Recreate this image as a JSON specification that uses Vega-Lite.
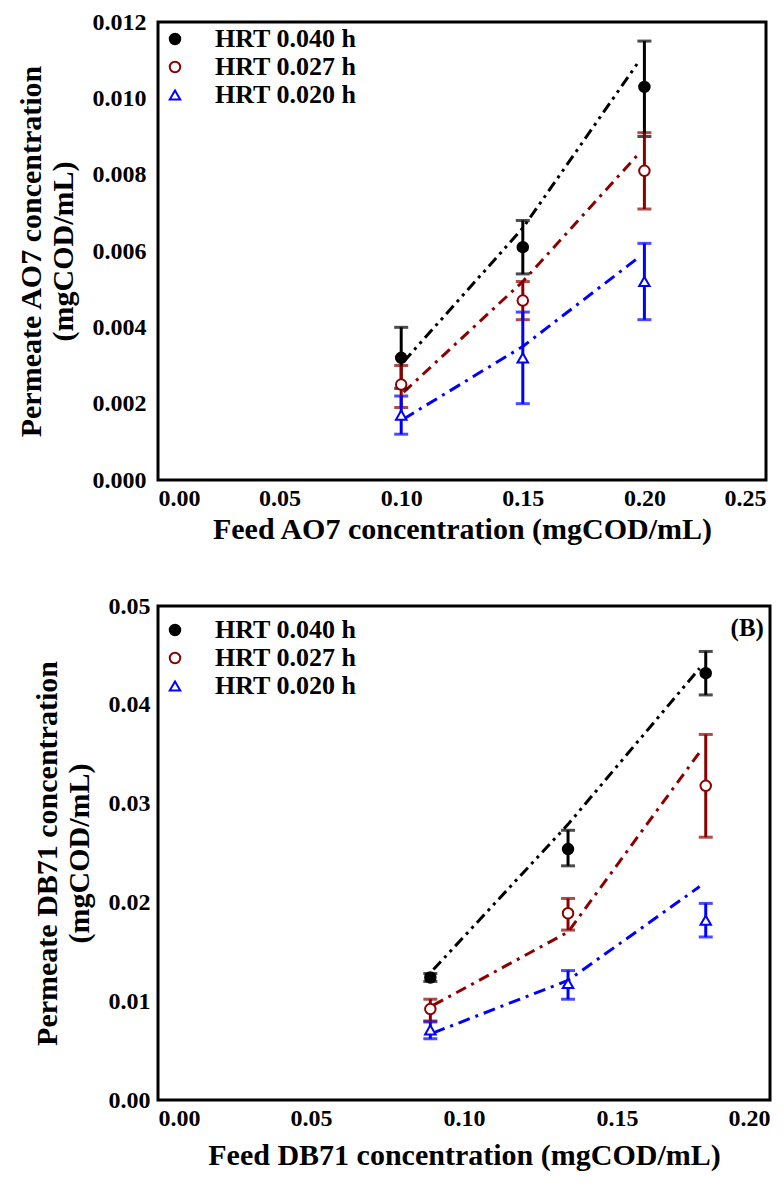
{
  "$schema": "https://vega.github.io/schema/vega-lite/v6.json",
  "padding": {"left": 14, "top": 8, "right": 12, "bottom": 5},
  "background": "white",
  "spacing": 46,
  "resolve": {
    "scale": {"color": "independent", "stroke": "independent", "fill": "independent", "shape": "independent", "strokeDash": "independent"},
    "legend": {"color": "independent", "stroke": "independent", "fill": "independent", "shape": "independent", "strokeDash": "independent"}
  },
  "config": {
    "font": "Liberation Serif",
    "view": {"stroke": "black", "strokeWidth": 3},
    "style": {"guide-title": {"lineBreak": "\n"}},
    "axis": {
      "grid": false, "ticks": false, "domain": false,
      "labelFont": "Liberation Serif", "labelFontWeight": "bold", "labelFontSize": 24, "labelColor": "black",
      "titleFont": "Liberation Serif", "titleFontWeight": "bold", "titleFontSize": 30, "titleColor": "black", "titleLineHeight": 32
    },
    "legend": {
      "labelFont": "Liberation Serif", "labelFontWeight": "bold", "labelFontSize": 26, "labelColor": "black",
      "symbolSize": 110, "symbolStrokeWidth": 2, "rowPadding": 2, "labelOffset": 27
    }
  },
  "datasets": {
    "aPts": [
      {"feed": 0.10, "perm": 0.0032, "lo": 0.0024, "hi": 0.0040, "s": "HRT 0.040 h"},
      {"feed": 0.15, "perm": 0.0061, "lo": 0.0054, "hi": 0.0068, "s": "HRT 0.040 h"},
      {"feed": 0.20, "perm": 0.0103, "lo": 0.0090, "hi": 0.0115, "s": "HRT 0.040 h"},
      {"feed": 0.10, "perm": 0.0025, "lo": 0.0019, "hi": 0.0030, "s": "HRT 0.027 h"},
      {"feed": 0.15, "perm": 0.0047, "lo": 0.0042, "hi": 0.0052, "s": "HRT 0.027 h"},
      {"feed": 0.20, "perm": 0.0081, "lo": 0.0071, "hi": 0.0091, "s": "HRT 0.027 h"},
      {"feed": 0.10, "perm": 0.0017, "lo": 0.0012, "hi": 0.0022, "s": "HRT 0.020 h"},
      {"feed": 0.15, "perm": 0.0032, "lo": 0.0020, "hi": 0.0044, "s": "HRT 0.020 h"},
      {"feed": 0.20, "perm": 0.0052, "lo": 0.0042, "hi": 0.0062, "s": "HRT 0.020 h"}
    ],
    "aFit": [
      {"feed": 0.101, "perm": 0.0031, "s": "HRT 0.040 h"},
      {"feed": 0.15, "perm": 0.0066, "s": "HRT 0.040 h"},
      {"feed": 0.197, "perm": 0.0109, "s": "HRT 0.040 h"},
      {"feed": 0.101, "perm": 0.0023, "s": "HRT 0.027 h"},
      {"feed": 0.15, "perm": 0.0052, "s": "HRT 0.027 h"},
      {"feed": 0.197, "perm": 0.0085, "s": "HRT 0.027 h"},
      {"feed": 0.101, "perm": 0.0016, "s": "HRT 0.020 h"},
      {"feed": 0.15, "perm": 0.0035, "s": "HRT 0.020 h"},
      {"feed": 0.197, "perm": 0.0058, "s": "HRT 0.020 h"}
    ],
    "bPts": [
      {"feed": 0.089, "perm": 0.0124, "lo": 0.0120, "hi": 0.0128, "s": "HRT 0.040 h"},
      {"feed": 0.134, "perm": 0.0254, "lo": 0.0237, "hi": 0.0273, "s": "HRT 0.040 h"},
      {"feed": 0.179, "perm": 0.0432, "lo": 0.0410, "hi": 0.0454, "s": "HRT 0.040 h"},
      {"feed": 0.089, "perm": 0.0092, "lo": 0.0080, "hi": 0.0102, "s": "HRT 0.027 h"},
      {"feed": 0.134, "perm": 0.0189, "lo": 0.0172, "hi": 0.0204, "s": "HRT 0.027 h"},
      {"feed": 0.179, "perm": 0.0318, "lo": 0.0266, "hi": 0.0370, "s": "HRT 0.027 h"},
      {"feed": 0.089, "perm": 0.0071, "lo": 0.0062, "hi": 0.0079, "s": "HRT 0.020 h"},
      {"feed": 0.134, "perm": 0.0118, "lo": 0.0102, "hi": 0.0131, "s": "HRT 0.020 h"},
      {"feed": 0.179, "perm": 0.0182, "lo": 0.0165, "hi": 0.0199, "s": "HRT 0.020 h"}
    ],
    "bFit": [
      {"feed": 0.090, "perm": 0.0132, "s": "HRT 0.040 h"},
      {"feed": 0.134, "perm": 0.0279, "s": "HRT 0.040 h"},
      {"feed": 0.177, "perm": 0.0437, "s": "HRT 0.040 h"},
      {"feed": 0.090, "perm": 0.0096, "s": "HRT 0.027 h"},
      {"feed": 0.134, "perm": 0.0170, "s": "HRT 0.027 h"},
      {"feed": 0.177, "perm": 0.0352, "s": "HRT 0.027 h"},
      {"feed": 0.090, "perm": 0.0068, "s": "HRT 0.020 h"},
      {"feed": 0.134, "perm": 0.0121, "s": "HRT 0.020 h"},
      {"feed": 0.177, "perm": 0.0216, "s": "HRT 0.020 h"}
    ],
    "bLabel": [{"feed": 0.198, "perm": 0.0478, "t": "(B)"}]
  },
  "vconcat": [
    {
      "width": 608,
      "height": 458,
      "layer": [
        {
          "data": {"name": "aFit"},
          "mark": {"type": "line", "strokeWidth": 3},
          "encoding": {
            "x": {"field": "feed", "type": "quantitative",
              "axis": {"values": [0, 0.05, 0.1, 0.15, 0.2, 0.25], "format": ".2f", "labelPadding": 6, "titlePadding": 4, "title": "Feed AO7 concentration (mgCOD/mL)"}},
            "y": {"field": "perm", "type": "quantitative",
              "axis": {"values": [0, 0.002, 0.004, 0.006, 0.008, 0.01, 0.012], "format": ".3f", "labelPadding": 12, "titlePadding": 14,
                "title": "Permeate AO7 concentration\n(mgCOD/mL)", "encode": {"title": {"update": {"lineBreak": {"value": "\n"}}}}}},
            "detail": {"field": "s"},
            "color": {"field": "s", "type": "nominal", "legend": null,
              "scale": {"domain": ["HRT 0.020 h", "HRT 0.027 h", "HRT 0.040 h"], "range": ["#0000FF", "#8B0000", "#000000"]}},
            "strokeDash": {"field": "s", "type": "nominal", "legend": null,
              "scale": {"domain": ["HRT 0.020 h", "HRT 0.027 h", "HRT 0.040 h"], "range": [[12, 6, 3, 6], [11, 6, 3, 6], [11, 5, 3, 5, 3, 5]]}}
          }
        },
        {
          "data": {"name": "aPts"},
          "mark": {"type": "errorbar", "ticks": {"size": 14, "thickness": 3}, "rule": {"strokeWidth": 3}},
          "encoding": {
            "x": {"field": "feed", "type": "quantitative",
              "axis": {"values": [0, 0.05, 0.1, 0.15, 0.2, 0.25], "format": ".2f", "labelPadding": 6, "titlePadding": 4, "title": "Feed AO7 concentration (mgCOD/mL)"}},
            "y": {"field": "lo", "type": "quantitative",
              "axis": {"values": [0, 0.002, 0.004, 0.006, 0.008, 0.01, 0.012], "format": ".3f", "labelPadding": 12, "titlePadding": 14,
                "title": "Permeate AO7 concentration\n(mgCOD/mL)", "encode": {"title": {"update": {"lineBreak": {"value": "\n"}}}}}},
            "y2": {"field": "hi"},
            "color": {"field": "s", "type": "nominal", "legend": null}
          }
        },
        {
          "data": {"name": "aPts"},
          "mark": {"type": "point", "filled": false, "strokeWidth": 2, "opacity": 1},
          "encoding": {
            "x": {"field": "feed", "type": "quantitative",
              "scale": {"domain": [0, 0.25], "nice": false},
              "axis": {"values": [0, 0.05, 0.1, 0.15, 0.2, 0.25], "format": ".2f", "labelPadding": 6, "titlePadding": 4, "title": "Feed AO7 concentration (mgCOD/mL)"}},
            "y": {"field": "perm", "type": "quantitative",
              "scale": {"domain": [0, 0.012], "nice": false},
              "axis": {"values": [0, 0.002, 0.004, 0.006, 0.008, 0.01, 0.012], "format": ".3f", "labelPadding": 12, "titlePadding": 14,
                "title": "Permeate AO7 concentration\n(mgCOD/mL)", "encode": {"title": {"update": {"lineBreak": {"value": "\n"}}}}}},
            "stroke": {"field": "s", "type": "nominal", "title": null,
              "scale": {"domain": ["HRT 0.040 h", "HRT 0.027 h", "HRT 0.020 h"], "range": ["#000000", "#8B0000", "#0000FF"]},
              "legend": {"orient": "none", "legendX": 4, "legendY": 4}},
            "fill": {"field": "s", "type": "nominal", "title": null,
              "scale": {"domain": ["HRT 0.040 h", "HRT 0.027 h", "HRT 0.020 h"], "range": ["#000000", "#FFFFFF", "#FFFFFF"]},
              "legend": {"orient": "none", "legendX": 4, "legendY": 4}},
            "shape": {"field": "s", "type": "nominal", "title": null,
              "scale": {"domain": ["HRT 0.040 h", "HRT 0.027 h", "HRT 0.020 h"], "range": ["circle", "circle", "triangle-up"]},
              "legend": {"orient": "none", "legendX": 4, "legendY": 4}},
            "size": {"value": 110}
          }
        }
      ]
    },
    {
      "width": 612,
      "height": 494,
      "layer": [
        {
          "data": {"name": "bFit"},
          "mark": {"type": "line", "strokeWidth": 3},
          "encoding": {
            "x": {"field": "feed", "type": "quantitative",
              "axis": {"values": [0, 0.05, 0.1, 0.15, 0.2], "format": ".2f", "labelPadding": 6, "titlePadding": 10, "title": "Feed DB71 concentration (mgCOD/mL)"}},
            "y": {"field": "perm", "type": "quantitative",
              "axis": {"values": [0, 0.01, 0.02, 0.03, 0.04, 0.05], "format": ".2f", "labelPadding": 8, "titlePadding": 14,
                "title": "Permeate DB71 concentration\n(mgCOD/mL)", "encode": {"title": {"update": {"lineBreak": {"value": "\n"}}}}}},
            "detail": {"field": "s"},
            "color": {"field": "s", "type": "nominal", "legend": null,
              "scale": {"domain": ["HRT 0.020 h", "HRT 0.027 h", "HRT 0.040 h"], "range": ["#0000FF", "#8B0000", "#000000"]}},
            "strokeDash": {"field": "s", "type": "nominal", "legend": null,
              "scale": {"domain": ["HRT 0.020 h", "HRT 0.027 h", "HRT 0.040 h"], "range": [[12, 6, 3, 6], [11, 6, 3, 6], [11, 5, 3, 5, 3, 5]]}}
          }
        },
        {
          "data": {"name": "bPts"},
          "mark": {"type": "errorbar", "ticks": {"size": 14, "thickness": 3}, "rule": {"strokeWidth": 3}},
          "encoding": {
            "x": {"field": "feed", "type": "quantitative",
              "axis": {"values": [0, 0.05, 0.1, 0.15, 0.2], "format": ".2f", "labelPadding": 6, "titlePadding": 10, "title": "Feed DB71 concentration (mgCOD/mL)"}},
            "y": {"field": "lo", "type": "quantitative",
              "axis": {"values": [0, 0.01, 0.02, 0.03, 0.04, 0.05], "format": ".2f", "labelPadding": 8, "titlePadding": 14,
                "title": "Permeate DB71 concentration\n(mgCOD/mL)", "encode": {"title": {"update": {"lineBreak": {"value": "\n"}}}}}},
            "y2": {"field": "hi"},
            "color": {"field": "s", "type": "nominal", "legend": null}
          }
        },
        {
          "data": {"name": "bPts"},
          "mark": {"type": "point", "filled": false, "strokeWidth": 2, "opacity": 1},
          "encoding": {
            "x": {"field": "feed", "type": "quantitative",
              "scale": {"domain": [0, 0.2], "nice": false},
              "axis": {"values": [0, 0.05, 0.1, 0.15, 0.2], "format": ".2f", "labelPadding": 6, "titlePadding": 10, "title": "Feed DB71 concentration (mgCOD/mL)"}},
            "y": {"field": "perm", "type": "quantitative",
              "scale": {"domain": [0, 0.05], "nice": false},
              "axis": {"values": [0, 0.01, 0.02, 0.03, 0.04, 0.05], "format": ".2f", "labelPadding": 8, "titlePadding": 14,
                "title": "Permeate DB71 concentration\n(mgCOD/mL)", "encode": {"title": {"update": {"lineBreak": {"value": "\n"}}}}}},
            "stroke": {"field": "s", "type": "nominal", "title": null,
              "scale": {"domain": ["HRT 0.040 h", "HRT 0.027 h", "HRT 0.020 h"], "range": ["#000000", "#8B0000", "#0000FF"]},
              "legend": {"orient": "none", "legendX": 4, "legendY": 11}},
            "fill": {"field": "s", "type": "nominal", "title": null,
              "scale": {"domain": ["HRT 0.040 h", "HRT 0.027 h", "HRT 0.020 h"], "range": ["#000000", "#FFFFFF", "#FFFFFF"]},
              "legend": {"orient": "none", "legendX": 4, "legendY": 11}},
            "shape": {"field": "s", "type": "nominal", "title": null,
              "scale": {"domain": ["HRT 0.040 h", "HRT 0.027 h", "HRT 0.020 h"], "range": ["circle", "circle", "triangle-up"]},
              "legend": {"orient": "none", "legendX": 4, "legendY": 11}},
            "size": {"value": 110}
          }
        },
        {
          "data": {"name": "bLabel"},
          "mark": {"type": "text", "align": "right", "baseline": "middle", "font": "Liberation Serif", "fontWeight": "bold", "fontSize": 25, "color": "black"},
          "encoding": {
            "x": {"field": "feed", "type": "quantitative"},
            "y": {"field": "perm", "type": "quantitative"},
            "text": {"field": "t"}
          }
        }
      ]
    }
  ]
}
